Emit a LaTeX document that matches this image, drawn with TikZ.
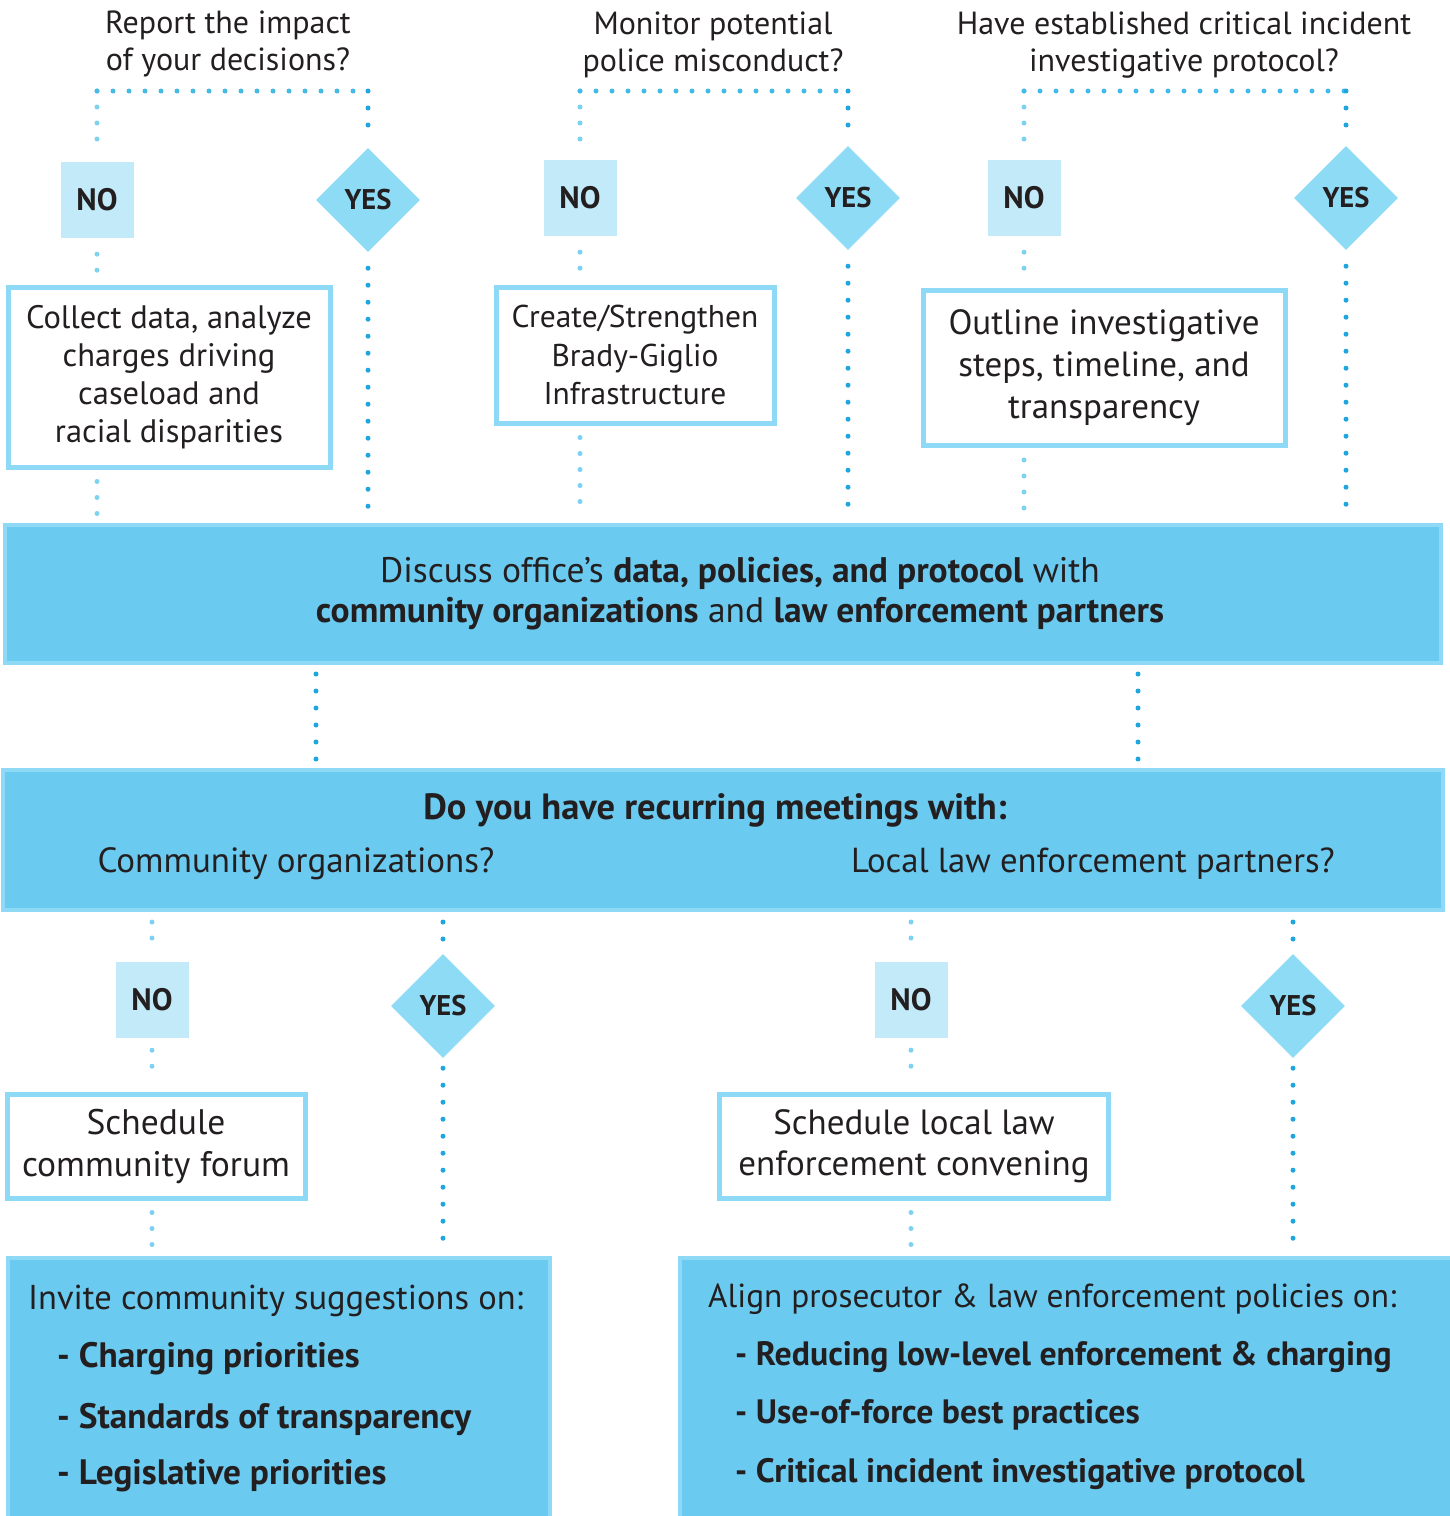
\documentclass[tikz,border=0pt]{standalone}
\usepackage{fontspec}
\setmainfont{PT Sans}
\usetikzlibrary{shapes.geometric}

\definecolor{boxblue}{HTML}{6ACAEF}
\definecolor{edgeblue}{HTML}{8DD9F6}
\definecolor{nofill}{HTML}{C2EAF9}
\definecolor{yesfill}{HTML}{8EDBF6}
\definecolor{dotlight}{HTML}{7DD1F1}
\definecolor{dotmid}{HTML}{45B9E8}
\definecolor{dotdark}{HTML}{1FA6DE}
\definecolor{ink}{HTML}{231F20}

\begin{document}
\begin{tikzpicture}[x=1pt, y=-1pt,
	qtext/.style={align=center, text=ink, font=\fontsize{32}{37}\selectfont},
	nobox/.style={fill=nofill, minimum width=73pt, minimum height=76pt, inner sep=0pt, text=ink, font=\fontsize{31}{30}\selectfont\bfseries},
	yesbox/.style={diamond, fill=yesfill, minimum width=104pt, minimum height=104pt, inner sep=0pt, text=ink, font=\fontsize{28.5}{30}\selectfont\bfseries},
	actbox/.style={draw=edgeblue, line width=5pt, fill=white, align=center, inner sep=0pt, text=ink, font=\fontsize{32.5}{38}\selectfont},
	mainbox/.style={draw=edgeblue, line width=4pt, fill=boxblue, inner sep=0pt},
	maintext/.style={align=center, text=ink, font=\fontsize{35.5}{40}\selectfont},
	listhead/.style={anchor=west, text=ink, inner sep=0pt, font=\fontsize{34.5}{36}\selectfont},
	listitem/.style={anchor=west, text=ink, inner sep=0pt, font=\fontsize{35.3}{36}\selectfont\bfseries},
	dotno/.style={draw=dotlight, line width=5pt, line cap=round, dash pattern=on 0pt off 16pt},
	dotmidline/.style={draw=dotmid, line width=5pt, line cap=round, dash pattern=on 0pt off 16pt},
	dotyes/.style={draw=dotdark, line width=5pt, line cap=round, dash pattern=on 0pt off 17pt}]
		%%%%% START %%%%%
		\useasboundingbox (0, 0) rectangle (1450, 1516);
		
		% questions
		\node[qtext] (q1) at (228, 44) {Report the impact\\of your decisions?};
		\node[qtext] (q2) at (713, 45) {Monitor potential\\police misconduct?};
		\node[qtext] (q3) at (1184, 45) {Have established critical incident\\investigative protocol?};
		\coordinate (top) at (0, 91);
		
		\node[nobox] (no1) at (97, 200) {NO};
		\node[yesbox] (yes1) at (368, 200) {YES};
		\node[nobox] (no2) at (580, 198) {NO};
		\node[yesbox] (yes2) at (848, 198) {YES};
		\node[nobox] (no3) at (1024, 198) {NO};
		\node[yesbox] (yes3) at (1346, 198) {YES};
		
		\node[actbox, minimum width=322pt, minimum height=180pt] (act1) at (169, 377) {Collect data, analyze\\charges driving\\caseload and\\racial disparities};
		\node[actbox, minimum width=278pt, minimum height=136pt, font=\fontsize{31.5}{38.5}\selectfont] (act2) at (635, 355) {Create/Strengthen\\Brady-Giglio\\Infrastructure};
		\node[actbox, minimum width=362pt, minimum height=155pt, font=\fontsize{35}{42}\selectfont] (act3) at (1104, 368) {Outline investigative\\steps, timeline, and\\transparency};
		
		% first band
		\node[mainbox, minimum width=1436pt, minimum height=138pt] (main1) at (723, 594) {};
		\node[maintext] (main1txt) at (740, 594) {Discuss office’s \textbf{data, policies, and protocol} with\\\textbf{community organizations} and \textbf{law enforcement partners}};
		
		\foreach \n in {1,2,3}{
			\draw[dotno, shorten >=10pt] (no\n.north |- top) -- (no\n.north);
			\draw[dotmidline] (no\n.north |- top) -- (yes\n.north |- top);
			\draw[dotyes, shorten >=8pt] (yes\n.north |- top) -- (yes\n.north);
			\draw[dotno, shorten <=16pt, shorten >=14pt] (no\n.south) -- (no\n.south |- act\n.north);
			\draw[dotno, shorten <=12pt, shorten >=8pt] (no\n.south |- act\n.south) -- (no\n.south |- main1.north);
			\draw[dotyes, shorten <=16pt, shorten >=14pt] (yes\n.south) -- (yes\n.south |- main1.north);
		}
		
		% second band
		\node[mainbox, minimum width=1440pt, minimum height=140pt] (main2) at (723, 840) {};
		\node[maintext, font=\fontsize{36.5}{40}\selectfont\bfseries] (main2txt) at (715, 810) {Do you have recurring meetings with:};
		\node[maintext, font=\fontsize{35}{36}\selectfont] (comm) at (296, 864) {Community organizations?};
		\node[maintext, font=\fontsize{34.7}{36}\selectfont] (law) at (1093, 864) {Local law enforcement partners?};
		
		\coordinate (mid1) at (316, 0);
		\coordinate (mid2) at (1138, 0);
		\draw[dotyes, shorten <=9pt, shorten >=9pt] (main1.south -| mid1) -- (main2.north -| mid1);
		\draw[dotyes, shorten <=9pt, shorten >=9pt] (main1.south -| mid2) -- (main2.north -| mid2);
		
		\node[nobox] (no4) at (152, 1000) {NO};
		\node[yesbox] (yes4) at (443, 1006) {YES};
		\node[nobox] (no5) at (911, 1000) {NO};
		\node[yesbox] (yes5) at (1293, 1006) {YES};
		
		\node[actbox, minimum width=298pt, minimum height=104pt, font=\fontsize{35.5}{42}\selectfont] (act4) at (156, 1146) {Schedule\\community forum};
		\node[actbox, minimum width=389pt, minimum height=104pt, font=\fontsize{35}{41}\selectfont] (act5) at (914, 1146) {Schedule local law\\enforcement convening};
		
		% bottom boxes
		\node[mainbox, minimum width=542pt, minimum height=272pt] (bot1) at (279, 1394) {};
		\node[mainbox, minimum width=772pt, minimum height=272pt] (bot2) at (1066, 1394) {};
		
		\node[listhead] (h1) at (28, 1301) {Invite community suggestions on:};
		\node[listitem] (i1) at (57, 1359) {- Charging priorities};
		\node[listitem] (i2) at (57, 1419) {- Standards of transparency};
		\node[listitem] (i3) at (57, 1476) {- Legislative priorities};
		
		\node[listhead, font=\fontsize{33.3}{36}\selectfont] (h2) at (708, 1299) {Align prosecutor \& law enforcement policies on:};
		\node[listitem, font=\fontsize{33.8}{36}\selectfont\bfseries] (j1) at (735, 1357) {- Reducing low-level enforcement \& charging};
		\node[listitem, font=\fontsize{33.8}{36}\selectfont\bfseries] (j2) at (735, 1415) {- Use-of-force best practices};
		\node[listitem, font=\fontsize{33.8}{36}\selectfont\bfseries] (j3) at (735, 1474) {- Critical incident investigative protocol};
		
		\foreach \n/\b in {4/bot1, 5/bot2}{
			\draw[dotno, shorten <=10pt, shorten >=10pt] (main2.south -| no\n) -- (no\n.north);
			\draw[dotyes, shorten <=10pt, shorten >=8pt] (main2.south -| yes\n) -- (yes\n.north);
			\draw[dotno, shorten <=12pt, shorten >=12pt] (no\n.south) -- (no\n.south |- act\n.north);
			\draw[dotno, shorten <=12pt, shorten >=10pt] (no\n.south |- act\n.south) -- (no\n.south |- \b.north);
			\draw[dotyes, shorten <=10pt, shorten >=10pt] (yes\n.south) -- (yes\n.south |- \b.north);
		}
		
		%%%%% END %%%%%
	\end{tikzpicture}
\end{document}
